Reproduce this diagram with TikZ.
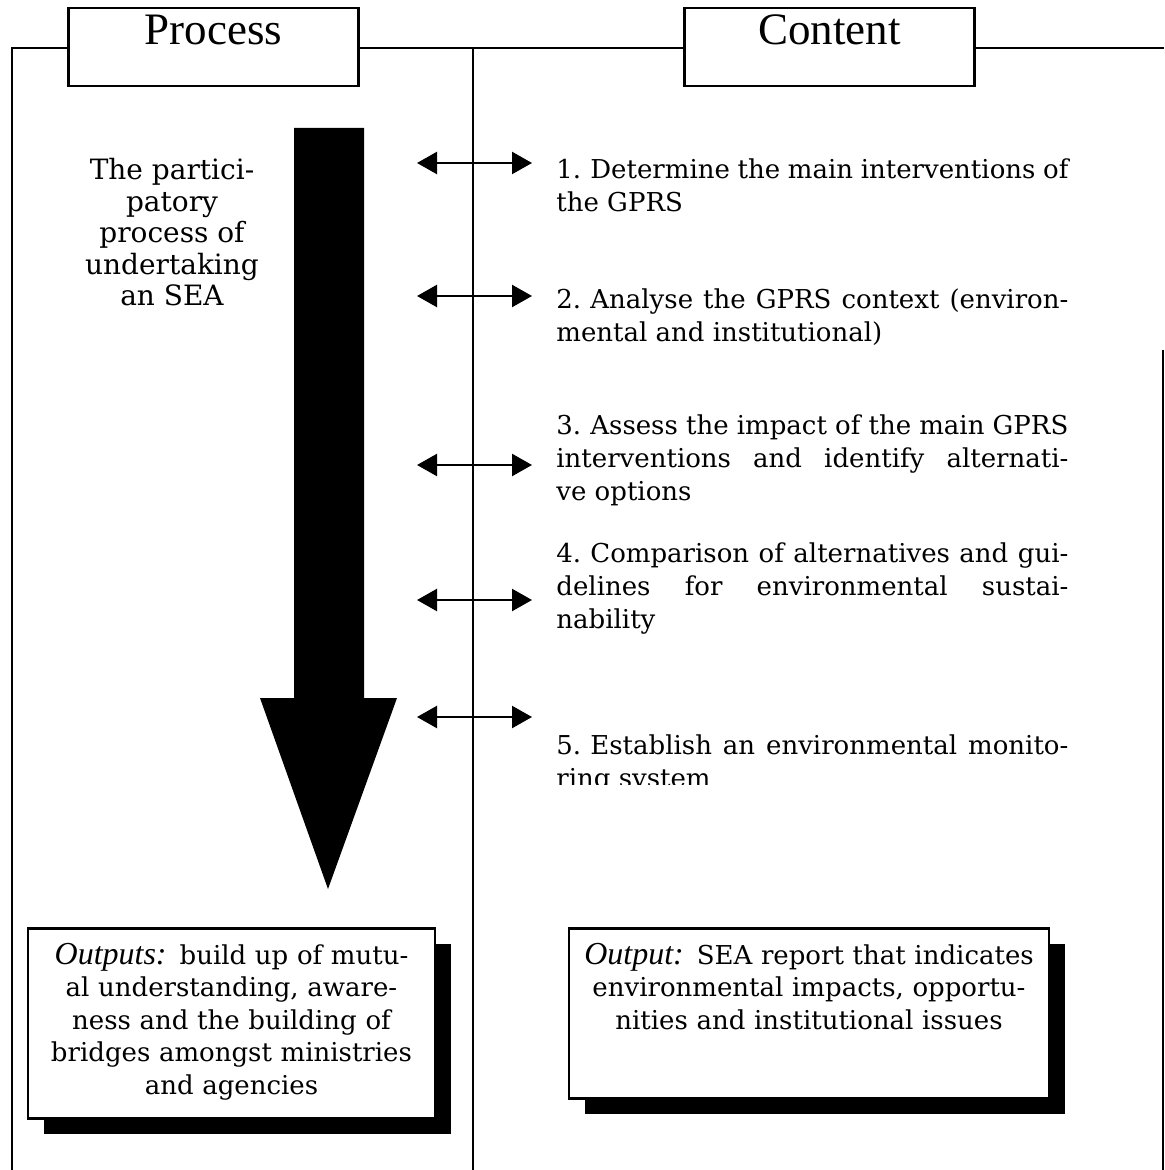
\documentclass[tikz,border=0pt]{standalone}
\usepackage{fontspec}
\setmainfont{DejaVu Serif}
\newfontfamily\timesfont{Liberation Serif}
\usetikzlibrary{arrows.meta,shadows}

\newcommand{\stepnum}[1]{\hangindent=17pt\hangafter=1\makebox[17pt][l]{#1}}
\newcommand{\outlabel}[1]{{\timesfont\itshape\fontsize{16}{16.5}\selectfont #1}}

\begin{document}
\begin{tikzpicture}[x=0.5pt, y=-0.5pt]

    \useasboundingbox (0,0) rectangle (1164,1170);

    \begin{scope}[line width=1.3pt] %frame
        \coordinate (tl) at (12,48);
        \coordinate (tr) at (1164,48);
        \coordinate (bl) at (12,1170);
        \coordinate (mt) at (473,48);
        \coordinate (mb) at (473,1170);
        \coordinate (rt) at (1163,350);
        \coordinate (rb) at (1163,1170);
        \draw (bl) -- (tl) -- (tr);
        \draw (mt) -- (mb);
        \draw (rt) -- (rb);
    \end{scope}

    \begin{scope}[every node/.style={draw, fill=white, line width=1.3pt, inner sep=0pt, anchor=base,
                  minimum width=145pt, text height=18.5pt, text depth=20.5pt,
                  font=\timesfont\fontsize{22.5}{27}\selectfont}] %headings
        \node (proc) at (213.5,45) {Process};
        \node (cont) at (829.5,45) {Content};
    \end{scope}

    % big arrow
    \fill (294,128) -- (364,128) -- (364,698) -- (397,698) -- (328,889) -- (260,698) -- (294,698) -- cycle;

    \node[anchor=north, inner sep=0pt, align=center, font=\fontsize{14}{15.75}\selectfont] (part) at (172,158)
        {The partici-\\patory\\process of\\undertaking\\an SEA};

    \begin{scope}[every node/.style={anchor=base west, inner sep=0pt, text width=256pt, align=justify,
                  font=\fontsize{13}{16.5}\selectfont}] %steps
        \node (s1) at (556,179) {\stepnum{1.}Determine the main interventions of\linebreak the GPRS};
        \node (s2) at (556,309) {\stepnum{2.}Analyse the GPRS context (environ-\linebreak mental and institutional)};
        \node (s3) at (556,434) {\stepnum{3.}Assess the impact of the main GPRS\linebreak interventions and identify alternati-\linebreak ve options};
        \node (s4) at (556,562) {\stepnum{4.}Comparison of alternatives and gui-\linebreak delines for environmental sustai-\linebreak nability};
        \begin{scope}
            \clip (540,700) rectangle (1164,784);
            \node (s5) at (556,754) {\stepnum{5.}Establish an environmental monito-\linebreak ring system};
        \end{scope}
    \end{scope}

    \begin{scope}[every edge/.style={draw, line width=1.2pt, {Triangle[length=10pt,width=11pt]}-{Triangle[length=10pt,width=11pt]}}]
        \foreach \i/\y in {1/163, 2/296, 3/465, 4/600, 5/717} {
            \coordinate (a\i) at (417,\y);
            \coordinate (b\i) at (532,\y);
            \path (a\i) edge (b\i);
        }
    \end{scope}

    \begin{scope}[every node/.style={draw, fill=white, line width=1.3pt, inner sep=0pt, anchor=north,
                  align=center, text height=18pt, font=\fontsize{13}{16.25}\selectfont,
                  drop shadow={shadow xshift=8pt, shadow yshift=-8pt, fill=black, opacity=1}}] %outputs
        \node[minimum width=203.5pt, text width=200pt, text depth=77pt] (o1) at (231.5,927)
            {\outlabel{Outputs:} build up of mutu-\\al understanding, aware-\\ness and the building of\\bridges amongst ministries\\and agencies};
        \node[minimum width=240pt, text width=236pt, text depth=67pt] (o2) at (809,927)
            {\outlabel{Output:} SEA report that indicates\\environmental impacts, opportu-\\nities and institutional issues};
    \end{scope}

\end{tikzpicture}
\end{document}
